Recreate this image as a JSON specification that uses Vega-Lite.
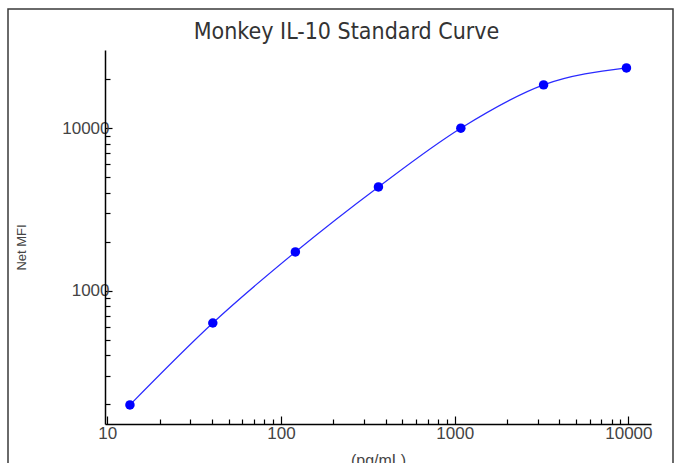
{
  "$schema": "https://vega.github.io/schema/vega-lite/v6.json",
  "width": 665,
  "height": 460,
  "autosize": "none",
  "padding": {"left": 8, "top": 9, "right": 1, "bottom": 0},
  "background": "white",
  "config": {"view": {"stroke": "#3a3a3a", "strokeWidth": 1.5}},
  "data": {
    "values": [
      {"conc": 13.5, "mfi": 198},
      {"conc": 40.5, "mfi": 632},
      {"conc": 121, "mfi": 1730},
      {"conc": 364, "mfi": 4350},
      {"conc": 1085, "mfi": 10000},
      {"conc": 3250, "mfi": 18480},
      {"conc": 9750, "mfi": 23500}
    ]
  },
  "encoding": {
    "y": {
      "field": "mfi",
      "type": "quantitative",
      "scale": {"type": "log", "domain": [151, 30300], "range": [415, 41], "nice": false, "zero": false},
      "axis": {
        "title": "Net MFI",
        "orient": "left",
        "offset": -97,
        "grid": false,
        "values": [200, 300, 400, 500, 600, 700, 800, 900, 1000, 2000, 3000, 4000, 5000, 6000, 7000, 8000, 9000, 10000, 20000],
        "format": "d",
        "labelExpr": "indexof([1000,10000], datum.value) >= 0 ? datum.label : ''",
        "domainColor": "#000000",
        "domainWidth": 1.5,
        "tickColor": "#000000",
        "tickWidth": 1.2,
        "tickSize": {"condition": {"test": "indexof([1000,10000], datum.value) >= 0", "value": -7}, "value": -5},
        "labelFont": "Liberation Sans",
        "labelFontSize": 17,
        "labelColor": "#444444",
        "labelPadding": 3,
        "labelOverlap": false,
        "labelFlush": false,
        "titleFont": "Liberation Sans",
        "titleFontSize": 13,
        "titleFontWeight": "normal",
        "titleColor": "#444444",
        "titleX": -84,
        "titleY": 238,
        "titleAngle": 270,
        "titleAlign": "center",
        "titleBaseline": "middle"
      }
    }
  },
  "layer": [
    {
      "mark": {"type": "line", "interpolate": "monotone", "color": "#2a2aff", "strokeWidth": 1.2},
      "encoding": {
        "x": {
          "field": "conc",
          "type": "quantitative",
          "scale": {"type": "log", "domain": [9.7, 13500], "range": [97, 643], "nice": false, "zero": false},
          "axis": {
            "title": "(pg/mL)",
            "orient": "bottom",
            "offset": -45,
            "grid": false,
            "values": [10, 20, 30, 40, 50, 60, 70, 80, 90, 100, 200, 300, 400, 500, 600, 700, 800, 900, 1000, 2000, 3000, 4000, 5000, 6000, 7000, 8000, 9000, 10000],
            "format": "d",
            "labelExpr": "indexof([10,100,1000,10000], datum.value) >= 0 ? datum.label : ''",
            "domainColor": "#000000",
            "domainWidth": 1.5,
            "tickColor": "#000000",
            "tickWidth": 1.2,
            "tickSize": {"condition": {"test": "indexof([10,100,1000,10000], datum.value) >= 0", "value": -8}, "value": -5},
            "labelFont": "Liberation Sans",
            "labelFontSize": 17,
            "labelColor": "#444444",
            "labelPadding": 9,
            "labelOverlap": false,
            "labelFlush": false,
            "titleFont": "Liberation Sans",
            "titleFontSize": 16,
            "titleFontWeight": "normal",
            "titleColor": "#444444",
            "titleY": 28,
            "titleBaseline": "top"
          }
        }
      }
    },
    {
      "mark": {"type": "point", "filled": true, "shape": "circle", "size": 90, "color": "#0000ff", "opacity": 1},
      "encoding": {
        "x": {
          "field": "conc",
          "type": "quantitative",
          "scale": {"type": "log", "domain": [9.7, 13500], "range": [97, 643], "nice": false, "zero": false},
          "axis": {
            "title": "Monkey IL-10 Standard Curve",
            "orient": "top",
            "offset": 0,
            "grid": false,
            "domain": false,
            "ticks": false,
            "labels": false,
            "titleFont": "DejaVu Sans Condensed, Liberation Sans",
            "titleFontSize": 23,
            "titleFontWeight": "normal",
            "titleColor": "#333333",
            "titleX": 338,
            "titleY": 29,
            "titleAlign": "center",
            "titleBaseline": "alphabetic"
          }
        }
      }
    }
  ],
  "resolve": {"axis": {"x": "independent"}}
}
